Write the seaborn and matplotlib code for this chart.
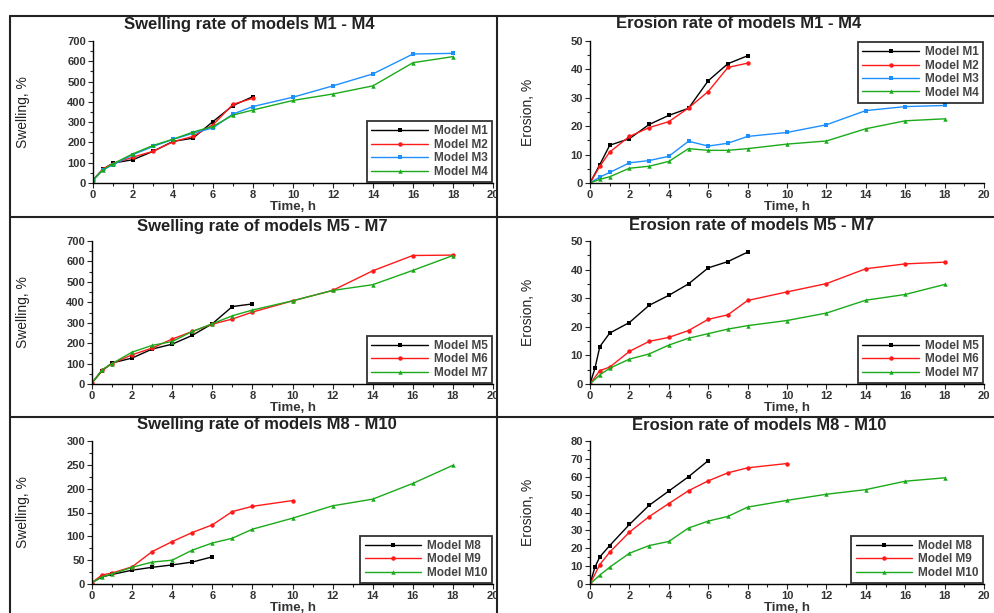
import numpy as np
import pandas as pd
import matplotlib
matplotlib.use("Agg")
import matplotlib.pyplot as plt
from matplotlib.lines import Line2D
from matplotlib.ticker import MultipleLocator
import seaborn as sns

# ---------- data ----------
t_a = [0, 0.5, 1, 2, 3, 4, 5, 6, 7, 8]
t_b = [0, 0.5, 1, 2, 3, 4, 5, 6, 7, 8, 10, 12, 14, 16, 18]
t_c = [0, 0.5, 1, 2, 3, 4, 5, 6]
t_d = [0, 0.5, 1, 2, 3, 4, 5, 6, 7, 8, 10]
t_e = [0, 0.25, 0.5, 1, 2, 3, 4, 5, 6, 7, 8]
t_f = [0, 0.25, 0.5, 1, 2, 3, 4, 5, 6]

sw_m1 = [15, 68, 98, 115, 156, 205, 221, 303, 382, 426]
sw_m2 = [15, 70, 95, 128, 156, 203, 230, 287, 388, 418]
sw_m3 = [15, 65, 90, 140, 180, 215, 245, 272, 340, 377, 423, 479, 538, 636, 639]
sw_m4 = [15, 65, 95, 144, 185, 216, 251, 279, 335, 360, 407, 439, 479, 593, 623]

er_m1 = [0, 6.5, 13.3, 15.6, 20.6, 23.8, 26.3, 36, 42, 44.8]
er_m2 = [0, 5.9, 10.9, 16.4, 19.5, 21.6, 26.4, 32.2, 40.7, 42.2]
er_m3 = [0, 2.1, 3.7, 7.1, 7.9, 9.4, 14.7, 13, 14, 16.4, 17.8, 20.5, 25.5, 26.9, 27.3]
er_m4 = [0, 1.3, 2.2, 5.2, 5.9, 7.6, 12.1, 11.5, 11.5, 12.1, 13.7, 14.8, 19.1, 21.9, 22.6]

sw_m5 = [5, 65, 103, 127, 171, 195, 238, 295, 379, 392]
sw_m6 = [5, 68, 100, 143, 176, 220, 257, 293, 318, 352, 407, 458, 554, 629, 631]
sw_m7 = [5, 70, 100, 156, 189, 208, 257, 295, 334, 362, 407, 458, 486, 556, 629]

er_m5 = [0, 5.5, 13.1, 17.8, 21.5, 27.5, 31, 35, 40.6, 42.8, 46.1]
er_m6 = [0, 4.7, 5.9, 11.4, 14.9, 16.3, 18.7, 22.6, 24.2, 29.2, 32.2, 35.1, 40.3, 42, 42.6]
er_m7 = [0, 3.2, 5.5, 8.7, 10.5, 13.6, 16, 17.6, 19.2, 20.4, 22.2, 24.8, 29.3, 31.3, 34.8]

sw_m8 = [3, 15, 20, 29, 35, 40, 46, 57]
sw_m9 = [3, 19, 23, 36, 68, 89, 108, 124, 152, 163, 175]
sw_m10 = [3, 15, 21, 35, 46, 50, 71, 86, 96, 115, 138, 164, 178, 211, 249]

er_m8 = [0, 9.5, 15.2, 21.5, 33.3, 44, 52, 60, 69]
er_m9 = [0, 10.9, 17.8, 29, 37.7, 45, 52.2, 57.7, 62.2, 65, 67.4]
er_m10 = [0, 5, 9.4, 17.2, 21.5, 23.8, 31.3, 35.2, 37.8, 43, 46.8, 50.2, 52.8, 57.5, 59.4]

BLACK, RED, BLUE, GREEN = "black", "#ff1a1a", "#1e8fff", "#1aaa1a"
colors4 = [BLACK, RED, BLUE, GREEN]
colors3 = [BLACK, RED, GREEN]
markers4 = ["s", "o", "s", "^"]
markers3 = ["s", "o", "^"]

sns.set_style("ticks")
plt.rcParams["font.family"] = ["Liberation Sans", "DejaVu Sans"]

W, H = 994, 613
fig = plt.figure(figsize=(W / 100, H / 100), dpi=100)


def px_axes(x0, x1, ytop, ybot):
    return fig.add_axes([x0 / W, 1 - ybot / H, (x1 - x0) / W, (ybot - ytop) / H])


panels = [
    (93, 493, 41, 183, "Swelling rate of models M1 - M4", (249, 24), "Swelling, %", 700, 100,
     [(t_a, sw_m1, "Model M1"), (t_a, sw_m2, "Model M2"), (t_b, sw_m3, "Model M3"), (t_b, sw_m4, "Model M4")],
     "lower right"),
    (590, 984, 41, 183, "Erosion rate of models M1 - M4", (739, 24), "Erosion, %", 50, 10,
     [(t_a, er_m1, "Model M1"), (t_a, er_m2, "Model M2"), (t_b, er_m3, "Model M3"), (t_b, er_m4, "Model M4")],
     "upper right"),
    (92, 493, 241, 384, "Swelling rate of models M5 - M7", (262, 226), "Swelling, %", 700, 100,
     [(t_a, sw_m5, "Model M5"), (t_b, sw_m6, "Model M6"), (t_b, sw_m7, "Model M7")],
     "lower right"),
    (590, 984, 241, 384, "Erosion rate of models M5 - M7", (752, 226), "Erosion, %", 50, 10,
     [(t_e, er_m5, "Model M5"), (t_b, er_m6, "Model M6"), (t_b, er_m7, "Model M7")],
     "lower right"),
    (92, 493, 441, 584, "Swelling rate of models M8 - M10", (267, 425), "Swelling, %", 300, 50,
     [(t_c, sw_m8, "Model M8"), (t_d, sw_m9, "Model M9"), (t_b, sw_m10, "Model M10")],
     "lower right"),
    (590, 984, 441, 584, "Erosion rate of models M8 - M10", (759, 425), "Erosion, %", 80, 10,
     [(t_f, er_m8, "Model M8"), (t_d, er_m9, "Model M9"), (t_b, er_m10, "Model M10")],
     "lower right"),
]

for x0, x1, ytop, ybot, title, (tx, ty), ylab, ymax, ymaj, series, loc in panels:
    ax = px_axes(x0, x1, ytop, ybot)
    cols = colors4 if len(series) == 4 else colors3
    mks = markers4 if len(series) == 4 else markers3
    for i, (t, v, name) in enumerate(series):
        df = pd.DataFrame({"Time": t, "Value": v})
        sns.lineplot(data=df, x="Time", y="Value", ax=ax, color=cols[i], marker=mks[i],
                     markersize=3.2, markeredgewidth=0, linewidth=1.0, label=name)
    ax.set_xlim(0, 20)
    ax.set_ylim(0, ymax)
    ax.xaxis.set_major_locator(MultipleLocator(2))
    ax.xaxis.set_minor_locator(MultipleLocator(1))
    ax.yaxis.set_major_locator(MultipleLocator(ymaj))
    ax.yaxis.set_minor_locator(MultipleLocator(ymaj / 2))
    for s in ["top", "right"]:
        ax.spines[s].set_visible(False)
    for s in ["left", "bottom"]:
        ax.spines[s].set_linewidth(1.0)
        ax.spines[s].set_color("black")
    ax.tick_params(which="major", length=3.5, width=0.8, labelsize=8, labelcolor="#333333", pad=1.5)
    ax.tick_params(which="minor", length=2, width=0.8)
    for lab in ax.get_xticklabels() + ax.get_yticklabels():
        lab.set_fontweight("bold")
    ax.set_xlabel("Time, h", fontsize=9.5, fontweight="bold", color="#333333", labelpad=1)
    ax.set_ylabel(ylab, fontsize=10, color="#222222")
    lx = (30 if x0 < 300 else 535) - x0
    ax.yaxis.set_label_coords(lx / (x1 - x0), 0.5)
    leg = ax.legend(loc=loc, frameon=True, fancybox=False, fontsize=8.5, handlelength=4.8,
                    borderpad=0.35, labelspacing=0.12, handletextpad=0.5,
                    borderaxespad=0.1)
    leg.get_frame().set_edgecolor("black")
    leg.get_frame().set_linewidth(1.3)
    for txt in leg.get_texts():
        txt.set_color("#444444")
        txt.set_fontweight("bold")
    fig.text(tx / W, 1 - ty / H, title, ha="center", va="center", fontsize=12,
             fontweight="bold", color="#222222")


# cell borders
def hline(y, x0, x1):
    fig.add_artist(Line2D([x0 / W, x1 / W], [1 - y / H, 1 - y / H], color="#222222", lw=1.5))


def vline(x, y0, y1):
    fig.add_artist(Line2D([x / W, x / W], [1 - y0 / H, 1 - y1 / H], color="#222222", lw=1.5))


hline(16, 10, 994)
hline(217, 10, 994)
hline(417, 10, 994)
vline(10, 16, 613)
vline(497, 16, 613)

fig.savefig("out.png", dpi=100)
